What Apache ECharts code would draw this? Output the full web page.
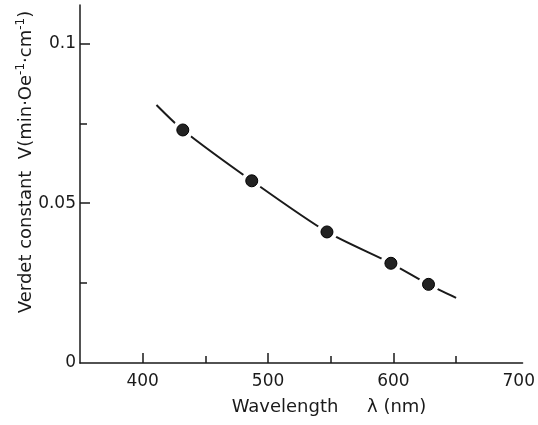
<!DOCTYPE html>
<html>
<head>
<meta charset="utf-8">
<script src="https://cdn.jsdelivr.net/npm/echarts@6/dist/echarts.min.js"></script>
<style>
html,body{margin:0;padding:0;background:#fff;}
#chart{width:538px;height:425px;}
</style>
</head>
<body>
<div id="chart"></div>
<script>
// measured points
const wavelength = [432, 487, 547, 598, 628];
const verdet = [0.0729, 0.0570, 0.0410, 0.0312, 0.0246];
// fitted curve drawn through the points
const curveX = [411, 432, 487, 547, 598, 628, 650];
const curveY = [0.0807, 0.0729, 0.0570, 0.0410, 0.0312, 0.0246, 0.0204];
// ticks
const xMajorTicks = [400, 500, 600];
const xMinorTicks = [450, 550, 650];
const xLabels = [400, 500, 600, 700];
const yMajorTicks = [0.05, 0.1];
const yMinorTicks = [0.025, 0.075];
const yLabels = [0, 0.05, 0.1];

const ink = '#1a1a1a';
const font = 'DejaVu Sans';
const pts = wavelength.map((w, i) => [w, verdet[i]]);
const curve = curveX.map((x, i) => [x, curveY[i]]);

const chart = echarts.init(document.getElementById('chart'));
const xBase = {
  type: 'value', min: 350, max: 703, position: 'bottom',
  splitLine: {show: false}
};
const yBase = {
  type: 'value', min: 0, max: 0.112, position: 'left',
  splitLine: {show: false}
};
chart.setOption({
  animation: false,
  backgroundColor: '#fff',
  grid: {left: 80, top: 5, width: 447, height: 358, containLabel: false},
  xAxis: [
    Object.assign({}, xBase, {
      axisLine: {show: true, onZero: false, lineStyle: {color: ink, width: 1.5}},
      axisTick: {show: true, inside: true, length: 10, customValues: xMajorTicks, lineStyle: {color: ink, width: 1.5}},
      axisLabel: {show: true, customValues: xLabels, margin: 10, color: ink, fontFamily: font, fontSize: 17}
    }),
    Object.assign({}, xBase, {
      axisLine: {show: false, onZero: false},
      axisTick: {show: true, inside: true, length: 7, customValues: xMinorTicks, lineStyle: {color: ink, width: 1.5}},
      axisLabel: {show: false}
    })
  ],
  yAxis: [
    Object.assign({}, yBase, {
      axisLine: {show: true, onZero: false, lineStyle: {color: ink, width: 1.5}},
      axisTick: {show: true, inside: true, length: 10, customValues: yMajorTicks, lineStyle: {color: ink, width: 1.5}},
      axisLabel: {show: true, customValues: yLabels, margin: 4, color: ink, fontFamily: font, fontSize: 17,
        formatter: v => String(Math.round(v * 1000) / 1000)}
    }),
    Object.assign({}, yBase, {
      axisLine: {show: false, onZero: false},
      axisTick: {show: true, inside: true, length: 7, customValues: yMinorTicks, lineStyle: {color: ink, width: 1.5}},
      axisLabel: {show: false}
    })
  ],
  graphic: [
    {
      type: 'text', x: 329, y: 407,
      style: {text: 'Wavelength     λ (nm)', fill: ink, font: '18px "DejaVu Sans"', align: 'center', verticalAlign: 'middle'}
    },
    {
      type: 'text', x: 26, y: 162, rotation: Math.PI / 2,
      style: {
        text: 'Verdet constant  V(min·Oe{s|-1}·cm{s|-1})',
        fill: ink, font: '18px "DejaVu Sans"', align: 'center', verticalAlign: 'middle',
        rich: {s: {fontSize: 12, fontFamily: font, fill: ink, verticalAlign: 'top', padding: [0, 0, 10, 0]}}
      }
    }
  ],
  series: [
    {
      type: 'line', data: curve, smooth: 0.25, showSymbol: false, symbol: 'none',
      lineStyle: {color: ink, width: 2}, z: 2
    },
    {
      type: 'scatter', data: pts, symbolSize: 21,
      itemStyle: {color: '#fff', opacity: 1}, z: 3
    },
    {
      type: 'scatter', data: pts, symbolSize: 12,
      itemStyle: {color: '#222', borderColor: '#000', borderWidth: 1, opacity: 1}, z: 4
    }
  ]
});
</script>
</body>
</html>
